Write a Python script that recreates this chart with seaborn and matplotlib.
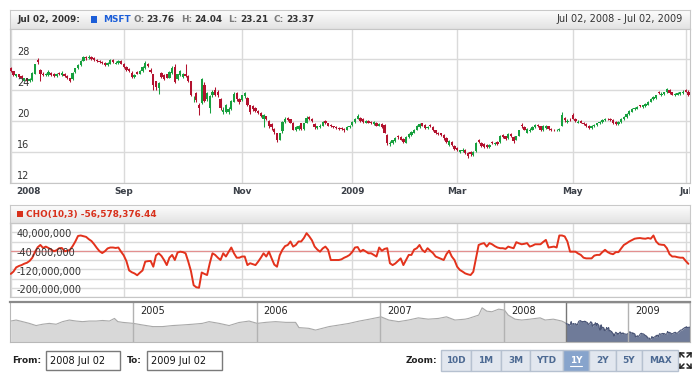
"""
MSFT one-year candlestick view with a Chaikin oscillator pane and a range scroller.
"""

import numpy as np
import pandas as pd
import matplotlib
matplotlib.use("Agg")
import matplotlib.pyplot as plt
import matplotlib.dates as mdates
import matplotlib.transforms as mtransforms
from matplotlib.colors import LinearSegmentedColormap
from matplotlib.patches import Rectangle
from matplotlib.lines import Line2D
import seaborn as sns

# ---------------------------------------------------------------- data
opens = [
    26.8, 26.4, 25.8, 26.0, 25.8, 25.2, 25.5, 25.1, 25.3, 26.1,
    27.9, 26.6, 26.1, 25.9, 25.9, 26.2, 26.1, 25.8, 26.2, 25.9,
    26.1, 25.8, 25.5, 25.4, 26.3, 26.8, 27.2, 27.8, 28.3, 28.1,
    28.3, 28.1, 27.9, 27.8, 27.6, 27.5, 27.2, 27.4, 27.9, 27.4,
    27.5, 27.8, 27.4, 27.0, 26.7, 26.2, 25.7, 26.3, 26.1, 26.4,
    26.8, 27.4, 26.6, 26.0, 25.1, 24.3, 26.2, 25.9, 26.0, 25.6,
    26.2, 27.0, 25.4, 25.9, 25.7, 26.0, 25.8, 25.1, 22.8, 23.6,
    22.1, 22.3, 24.6, 22.8, 21.7, 23.3, 24.0, 23.7, 22.9, 21.1,
    21.2, 21.1, 21.5, 22.5, 23.6, 22.9, 22.7, 23.2, 23.0, 22.0,
    21.9, 21.7, 21.3, 21.0, 20.3, 20.6, 20.0, 19.6, 19.0, 18.4,
    17.6, 18.7, 19.9, 20.4, 20.2, 19.8, 18.9, 19.0, 19.7, 19.0,
    19.8, 20.5, 20.3, 19.6, 19.1, 19.2, 19.4, 20.0, 19.7, 19.5,
    19.3, 19.2, 19.1, 19.1, 19.0, 18.9, 19.2, 19.5, 19.9, 20.3,
    20.4, 20.3, 19.8, 20.0, 19.9, 19.6, 19.8, 19.4, 19.6, 19.5,
    18.2, 17.0, 17.1, 17.4, 18.1, 17.9, 17.7, 17.2, 17.9, 18.2,
    18.5, 18.9, 19.2, 19.7, 19.5, 19.1, 19.5, 19.2, 18.8, 18.5,
    18.4, 18.2, 17.8, 16.9, 17.3, 16.8, 16.5, 16.0, 16.1, 16.3,
    15.9, 16.0, 15.6, 16.1, 17.5, 17.2, 17.0, 16.9, 16.6, 17.3,
    17.0, 17.3, 17.3, 18.2, 18.0, 17.8, 18.3, 17.9, 17.6, 18.1,
    19.5, 19.2, 18.5, 18.7, 18.9, 19.2, 19.5, 19.3, 18.8, 19.1,
    19.3, 19.0, 18.9, 18.8, 18.8, 19.4, 20.4, 19.9, 20.3, 20.8,
    20.3, 19.8, 20.0, 19.8, 19.6, 19.4, 19.1, 19.3, 19.5, 19.7,
    19.9, 20.1, 20.3, 20.3, 20.1, 19.9, 19.6, 19.9, 20.2, 20.5,
    20.9, 21.2, 21.5, 21.6, 22.0, 21.8, 21.9, 22.1, 22.5, 22.8,
    23.0, 23.8, 23.3, 23.5, 23.7, 24.0, 23.7, 23.3, 23.4, 23.5,
    23.6, 24.0, 23.76,
]
highs = [
    27.0, 26.5, 26.1, 26.1, 25.9, 25.6, 25.6, 25.5, 26.3, 27.4,
    28.1, 26.7, 26.3, 26.2, 26.6, 26.3, 26.2, 26.2, 26.3, 26.4,
    26.2, 25.9, 25.6, 26.3, 26.9, 27.3, 27.9, 28.4, 28.4, 28.5,
    28.4, 28.2, 28.0, 27.9, 27.7, 27.6, 27.6, 28.0, 28.0, 27.7,
    27.9, 27.9, 27.5, 27.1, 26.8, 26.4, 26.0, 26.4, 26.6, 27.1,
    27.7, 27.5, 26.8, 26.1, 25.2, 25.0, 26.3, 26.0, 26.1, 26.4,
    27.1, 27.3, 26.1, 26.6, 26.2, 27.3, 25.9, 25.2, 23.2, 23.7,
    22.3, 25.5, 25.0, 23.8, 23.3, 24.0, 24.4, 24.0, 23.0, 21.8,
    22.2, 21.8, 22.7, 23.7, 23.8, 23.0, 23.4, 23.8, 23.1, 22.1,
    22.0, 21.8, 21.4, 21.1, 20.9, 20.7, 20.1, 19.7, 19.1, 18.5,
    18.5, 20.0, 20.5, 20.5, 20.3, 19.9, 19.4, 19.5, 19.8, 19.8,
    20.7, 20.6, 20.4, 19.7, 19.4, 19.6, 20.0, 20.1, 19.8, 19.6,
    19.4, 19.3, 19.2, 19.2, 19.1, 19.3, 19.5, 20.0, 20.4, 20.9,
    20.5, 20.4, 20.1, 20.1, 20.0, 20.0, 19.9, 19.7, 19.8, 19.6,
    18.3, 17.4, 17.6, 17.9, 18.2, 18.0, 17.8, 18.0, 18.4, 18.7,
    19.0, 19.5, 19.8, 19.8, 19.6, 19.4, 19.6, 19.3, 18.9, 18.6,
    18.5, 18.3, 17.9, 17.5, 17.4, 16.9, 16.6, 16.3, 16.5, 16.4,
    16.0, 16.1, 16.1, 17.3, 17.7, 17.3, 17.1, 17.0, 17.0, 17.4,
    17.3, 17.4, 18.2, 18.3, 18.1, 18.5, 18.4, 18.0, 18.1, 18.9,
    19.7, 19.3, 19.1, 19.1, 19.4, 19.6, 19.6, 19.4, 19.5, 19.5,
    19.4, 19.1, 19.0, 19.0, 19.1, 21.2, 20.5, 20.2, 20.4, 21.0,
    20.4, 20.1, 20.1, 19.9, 19.7, 19.5, 19.5, 19.6, 19.8, 20.0,
    20.2, 20.4, 20.4, 20.4, 20.2, 20.0, 20.0, 20.4, 20.6, 21.0,
    21.4, 21.7, 21.8, 21.9, 22.1, 22.1, 22.3, 22.6, 23.0, 23.2,
    23.4, 23.9, 23.7, 23.8, 24.3, 24.1, 23.8, 23.6, 23.7, 23.8,
    24.0, 24.1, 24.04,
]
lows = [
    26.3, 25.8, 25.7, 25.6, 25.4, 25.1, 25.0, 25.0, 25.2, 26.0,
    27.4, 25.1, 25.8, 25.8, 25.8, 25.8, 25.7, 25.7, 25.9, 25.8,
    25.7, 25.4, 25.0, 25.3, 26.2, 26.7, 27.1, 27.7, 27.9, 28.0,
    27.9, 27.8, 27.6, 27.5, 27.3, 27.1, 27.1, 27.3, 27.5, 27.3,
    27.4, 27.3, 26.9, 26.5, 26.3, 25.6, 25.5, 26.0, 26.0, 26.3,
    26.7, 27.0, 26.2, 24.0, 24.0, 23.5, 25.5, 25.3, 25.5, 25.5,
    26.1, 24.9, 25.3, 25.8, 25.6, 25.7, 25.0, 23.2, 22.5, 22.4,
    20.8, 22.2, 22.4, 22.6, 21.0, 23.1, 23.2, 23.1, 21.4, 20.9,
    21.0, 20.9, 21.4, 22.4, 22.6, 22.2, 22.6, 23.0, 21.9, 20.9,
    21.3, 21.2, 20.9, 20.5, 19.2, 20.1, 19.1, 18.9, 18.3, 17.3,
    17.5, 18.5, 19.8, 20.0, 19.7, 18.8, 18.7, 18.9, 18.9, 18.9,
    19.7, 20.1, 19.9, 19.0, 19.0, 19.1, 19.3, 19.6, 19.3, 19.2,
    19.1, 19.0, 18.9, 18.9, 18.6, 18.8, 19.1, 19.4, 19.8, 20.2,
    19.9, 19.8, 19.7, 19.7, 19.6, 19.5, 19.3, 19.3, 19.1, 18.4,
    16.9, 16.8, 17.0, 17.3, 17.7, 17.5, 17.2, 17.1, 17.8, 18.1,
    18.4, 18.8, 19.1, 19.3, 19.0, 19.0, 19.2, 18.7, 18.3, 18.2,
    18.0, 17.6, 17.2, 16.8, 16.8, 16.3, 16.1, 15.9, 16.0, 15.8,
    15.2, 15.5, 15.5, 16.0, 17.1, 16.6, 16.5, 16.5, 16.5, 17.0,
    16.9, 16.9, 17.2, 17.8, 17.6, 17.7, 17.9, 17.2, 17.5, 18.0,
    19.1, 18.8, 18.4, 18.6, 18.8, 19.1, 19.2, 18.7, 18.7, 19.0,
    18.9, 18.7, 18.7, 18.7, 18.7, 19.3, 19.9, 19.8, 20.0, 20.2,
    19.9, 19.7, 19.7, 19.5, 19.2, 19.0, 19.0, 19.2, 19.4, 19.6,
    19.8, 20.0, 20.1, 20.0, 19.6, 19.5, 19.5, 19.8, 20.1, 20.4,
    20.8, 21.1, 21.4, 21.5, 21.8, 21.7, 21.8, 22.0, 22.4, 22.7,
    22.9, 23.5, 23.2, 23.4, 23.6, 23.5, 23.3, 23.2, 23.3, 23.4,
    23.5, 23.7, 23.21,
]
closes = [
    26.5, 25.9, 26.0, 25.7, 25.6, 25.5, 25.1, 25.4, 26.2, 27.3,
    27.6, 26.0, 25.9, 26.1, 26.3, 25.9, 25.8, 26.1, 26.0, 26.2,
    25.8, 25.5, 25.2, 26.2, 26.8, 27.2, 27.8, 28.2, 28.1, 28.3,
    28.0, 27.9, 27.7, 27.6, 27.5, 27.2, 27.5, 27.9, 27.6, 27.5,
    27.8, 27.4, 27.0, 26.6, 26.5, 25.7, 25.9, 26.1, 26.5, 27.0,
    27.5, 27.1, 26.3, 24.6, 24.4, 24.9, 25.7, 25.4, 25.6, 26.3,
    26.9, 25.0, 26.0, 26.4, 26.0, 25.8, 25.2, 23.4, 22.9, 22.7,
    21.7, 25.4, 22.6, 23.6, 23.2, 23.8, 23.4, 23.3, 21.7, 21.4,
    22.0, 21.5, 22.6, 23.5, 22.8, 22.4, 23.3, 23.6, 22.0, 21.1,
    21.5, 21.3, 21.0, 20.6, 20.8, 20.3, 19.3, 19.2, 18.6, 17.6,
    18.4, 19.9, 20.3, 20.1, 19.8, 18.9, 19.2, 19.3, 19.0, 19.7,
    20.4, 20.3, 20.0, 19.2, 19.3, 19.4, 19.9, 19.8, 19.4, 19.3,
    19.2, 19.1, 19.0, 19.0, 18.8, 19.2, 19.4, 19.9, 20.3, 20.7,
    20.0, 19.9, 20.0, 19.8, 19.7, 19.9, 19.4, 19.6, 19.2, 18.5,
    17.2, 17.2, 17.5, 17.8, 17.9, 17.6, 17.3, 17.9, 18.3, 18.6,
    18.9, 19.3, 19.6, 19.4, 19.1, 19.2, 19.3, 18.8, 18.4, 18.3,
    18.2, 17.8, 17.3, 17.4, 16.9, 16.4, 16.2, 16.2, 16.3, 15.9,
    15.5, 15.7, 16.0, 17.2, 17.3, 16.8, 16.7, 16.6, 16.9, 17.1,
    17.2, 17.0, 18.1, 17.9, 17.7, 18.3, 18.0, 17.4, 18.0, 18.8,
    19.3, 18.9, 19.0, 18.9, 19.2, 19.5, 19.3, 18.9, 19.3, 19.4,
    19.0, 18.8, 18.8, 18.9, 19.0, 20.8, 20.1, 20.0, 20.2, 20.3,
    20.0, 19.9, 19.8, 19.6, 19.3, 19.1, 19.4, 19.5, 19.7, 19.9,
    20.1, 20.3, 20.2, 20.1, 19.7, 19.6, 19.9, 20.3, 20.5, 20.9,
    21.3, 21.6, 21.7, 21.8, 21.9, 22.0, 22.2, 22.5, 22.9, 23.1,
    23.3, 23.6, 23.5, 23.7, 24.1, 23.6, 23.4, 23.5, 23.6, 23.7,
    23.8, 23.8, 23.37,
]
# Chaikin oscillator, millions
cho_m = [
    -100, -90, -72, -66, -62, -56, -52, -44, -30, -5,
    15, 25, 12, 18, 12, 5, -2, 2, 11, 12,
    -2, 0, 4, 20, 40, 64, 66, 63, 60, 50,
    42, 28, 12, -2, -10, -2, 10, 14, 14, 12,
    14, -4, -20, -45, -85, -93, -98, -106, -95, -85,
    -47, -45, -44, -69, -20, -11, -22, -40, -62, -30,
    -18, -40, -8, -4, -6, -11, -47, -88, -149, -158,
    -160, -94, -100, -105, -54, -11, -18, -30, -40, -11,
    -25, -5, 14, -11, -30, -30, -25, -25, -62, -54,
    -58, -62, -47, -30, -11, -25, -4, -33, -60, -69,
    -20, 4, 20, 25, 40, 18, 25, 40, 40, 55,
    76, 62, 45, 18, 5, -4, 10, 18, 4, -40,
    -40, -40, -40, -37, -30, -25, -18, -5, 14, 16,
    -4, 4, -3, -11, -11, -18, -25, 14, 0, 8,
    11, -54, -62, -55, -44, -33, -62, -40, -18, -18,
    5, 11, 25, 4, -6, 11, 0, -10, -25, -30,
    -35, -40, -15, 0, -25, -40, -69, -83, -90, -98,
    -102, -105, -91, -33, 25, 30, 33, 18, 33, 28,
    20, 14, 11, 11, 8, 18, 14, 11, 37, 32,
    28, 30, 33, 18, 22, 28, 28, 28, 38, 47,
    14, 16, 18, 14, 66, 66, 62, 40, -4, -4,
    -4, -12, -18, -30, -33, -33, -33, -21, -18, -18,
    -6, 4, -6, -12, -15, -6, -6, 10, 25, 32,
    40, 46, 52, 54, 55, 53, 52, 55, 52, 66,
    40, 28, 26, 25, 11, -15, -25, -25, -28, -30,
    -30, -44, -56.57837644,
]
holidays = ["2008-07-04", "2008-09-01", "2008-11-27", "2008-12-25", "2009-01-01",
            "2009-01-19", "2009-02-16", "2009-04-10", "2009-05-25"]
tick_months = ["2008-07", "2008-09", "2008-11", "2009-01", "2009-03", "2009-05", "2009-07"]
tick_labels = ["2008", "Sep", "Nov", "2009", "Mar", "May", "Jul"]
price_ticks = [12, 16, 20, 24, 28]
cho_ticks = [40e6, -40e6, -120e6, -200e6]

# long history shown in the scroller (before the selected range)
scroll_dates = [
    "2004-01-07", "2004-01-23", "2004-02-11", "2004-03-02", "2004-03-22", "2004-04-10",
    "2004-04-30", "2004-05-20", "2004-06-08", "2004-06-28", "2004-07-18", "2004-08-06",
    "2004-08-26", "2004-09-15", "2004-10-04", "2004-10-24", "2004-11-08", "2004-11-18",
    "2004-12-02", "2005-01-03", "2005-01-30", "2005-03-01", "2005-03-30", "2005-04-28",
    "2005-05-27", "2005-06-26", "2005-07-25", "2005-08-14", "2005-09-13", "2005-10-12",
    "2005-11-10", "2005-12-10", "2006-01-03", "2006-01-28", "2006-02-26", "2006-03-28",
    "2006-04-26", "2006-05-06", "2006-06-04", "2006-06-24", "2006-07-14", "2006-08-03",
    "2006-09-02", "2006-10-01", "2006-10-31", "2006-11-30", "2007-01-03", "2007-01-26",
    "2007-02-24", "2007-03-25", "2007-04-23", "2007-05-22", "2007-06-21", "2007-07-15",
    "2007-08-09", "2007-09-08", "2007-09-18", "2007-10-18", "2007-10-28", "2007-11-11",
    "2007-11-26", "2007-12-16", "2008-01-02", "2008-01-13", "2008-02-02", "2008-02-22",
    "2008-03-17", "2008-04-16", "2008-05-01", "2008-05-25", "2008-06-19",
]
scroll_prices = [
    28.0, 28.7, 27.6, 26.4, 24.9, 25.8,
    26.4, 25.8, 27.6, 28.7, 28.0, 27.6,
    28.0, 28.0, 28.4, 28.0, 29.8, 27.6,
    27.1, 26.4, 25.3, 24.2, 24.2, 24.9,
    25.3, 25.8, 26.4, 27.6, 26.4, 24.9,
    27.0, 28.0, 26.4, 27.1, 27.6, 27.1,
    27.1, 23.5, 23.0, 21.8, 23.0, 24.2,
    25.3, 26.4, 28.0, 29.3, 30.9, 28.7,
    27.6, 28.7, 30.2, 29.3, 29.8, 30.9,
    28.7, 29.3, 29.8, 32.1, 37.1, 34.8,
    34.4, 36.2, 35.5, 32.1, 29.3, 28.7,
    29.3, 30.2, 28.7, 29.3, 28.0,
]
year_labels = ["2005", "2006", "2007", "2008", "2009"]
zoom_buttons = ["10D", "1M", "3M", "YTD", "1Y", "2Y", "5Y", "MAX"]
selected_button = "1Y"

# ---------------------------------------------------------------- style
sns.set_style("white")
plt.rcParams["font.family"] = ["DejaVu Sans"]
FS = 7
FSB = 6.4   # bold header text, DejaVu bold runs wide
UP, DOWN = "#17a03e", "#b3122f"
GRID = "#dadada"
TXT = "#333333"

W, H = 700, 380
fig = plt.figure(figsize=(W / 100, H / 100), dpi=100)


def px_axes(x0, y0, x1, y1):
    return fig.add_axes([x0 / W, 1 - y1 / H, (x1 - x0) / W, (y1 - y0) / H])


def ptext(x, y, s, **kw):
    kw.setdefault("fontsize", FS)
    kw.setdefault("va", "center")
    kw.setdefault("color", TXT)
    return fig.text(x / W, 1 - y / H, s, **kw)


def prect(x0, y0, x1, y1, **kw):
    fig.add_artist(Rectangle((x0 / W, 1 - y1 / H), (x1 - x0) / W, (y1 - y0) / H,
                             transform=fig.transFigure, **kw))


hdr_cmap = LinearSegmentedColormap.from_list("hdr", ["#fdfdfd", "#e3e3e3"])


def header_bar(y0, y1):
    hx = px_axes(10, y0, 690, y1)
    hx.imshow(np.linspace(0, 1, 32)[:, None], cmap=hdr_cmap, aspect="auto", extent=(0, 1, 0, 1))
    hx.set_xticks([])
    hx.set_yticks([])
    for s in hx.spines.values():
        s.set_color("#c9c9c9")
    return hx


days = pd.bdate_range("2008-07-02", "2009-07-02", freq="C", holidays=holidays)
idx = np.arange(len(closes))
o, h, l, c = (np.array(v) for v in (opens, highs, lows, closes))
tick_idx = [int(np.searchsorted(days, pd.Timestamp(m + "-01"))) for m in tick_months]
xlim = (-0.3, len(closes) - 0.4)

# ---------------------------------------------------------------- top header
header_bar(10, 29)
ty = 19.5
ptext(17, ty, days[-1].strftime("%b %d, %Y") + ":", fontweight="bold", fontsize=FSB)
prect(91, 16.5, 97, 22.5, facecolor="#1c5ed8", edgecolor="none")
ptext(103, ty, "MSFT", fontweight="bold", color="#1c5ed8", fontsize=FSB)
for lab, val, xl, xv in zip(["O:", "H:", "L:", "C:"], [o[-1], h[-1], l[-1], c[-1]],
                            [133, 181, 228, 273], [146, 194, 240, 286]):
    ptext(xl, ty, lab, fontweight="bold", color="#7a7a7a", fontsize=FSB)
    ptext(xv, ty, f"{val:.2f}", fontweight="bold", fontsize=FSB)
ptext(683, ty, f"{days[0]:%b %d, %Y} - {days[-1]:%b %d, %Y}", ha="right")

# ---------------------------------------------------------------- candles
ax = px_axes(10, 29, 690, 183)
cols = np.where(c >= o, UP, DOWN)
ax.vlines(idx, l, h, colors=cols, linewidth=0.75, zorder=2)
ax.bar(idx, np.maximum(np.abs(c - o), 0.1), bottom=np.minimum(o, c), width=0.86,
       color=cols, linewidth=0, zorder=3, antialiased=False)
ax.set_xlim(*xlim)
ax.set_ylim(12, 31.87)
ax.set_xticks(tick_idx)
ax.set_yticks(price_ticks)
ax.grid(True, color=GRID, linewidth=1)
ax.set_axisbelow(True)
ax.tick_params(length=0, labelbottom=False, labelleft=False)
for s in ax.spines.values():
    s.set_color("#c6c6c6")
for v in price_ticks:
    ax.annotate(str(v), xy=(0, v), xycoords=("axes fraction", "data"), xytext=(7, 2),
                textcoords="offset pixels", va="bottom", ha="left", fontsize=FS, color=TXT)

# date labels strip
axl = px_axes(10, 183, 690, 201)
axl.set_xlim(*xlim)
axl.set_ylim(0, 1)
axl.axis("off")
for i, (t, lab) in enumerate(zip(tick_idx, tick_labels)):
    if i == 0:
        tr = mtransforms.offset_copy(axl.transData, fig, x=5, units="dots")
        axl.text(t, 0.5, lab, transform=tr, ha="left", va="center", fontsize=FSB,
                 fontweight="bold", color="#3a3f47")
    else:
        axl.text(t, 0.5, lab, ha="center", va="center", fontsize=FSB, fontweight="bold",
                 color="#3a3f47", clip_on=True)

# ---------------------------------------------------------------- CHO pane
header_bar(205, 223)
prect(17, 211, 22.5, 216.5, facecolor="#d8311c", edgecolor="none")
ptext(26, 214.2, f"CHO(10,3) {cho_m[-1] * 1e6:,.2f}", color="#d8311c", fontweight="bold",
      fontsize=FSB)

axc = px_axes(10, 223, 690, 297)
cho = np.array(cho_m) * 1e6
axc.axhline(0, color="#e39090", linewidth=0.9, zorder=2)
sns.lineplot(x=idx, y=cho, ax=axc, color="#e3321c", linewidth=1.4, zorder=3)
axc.set_xlim(*xlim)
axc.set_ylim(-200e6, 120e6)
axc.set_xticks(tick_idx)
axc.set_yticks(np.arange(-200e6, 121e6, 40e6))
axc.grid(True, color=GRID, linewidth=1)
axc.set_axisbelow(True)
axc.tick_params(length=0, labelbottom=False, labelleft=False)
axc.set_xlabel("")
axc.set_ylabel("")
for s in axc.spines.values():
    s.set_color("#c6c6c6")
for v in cho_ticks:
    axc.annotate(f"{v:,.0f}", xy=(0, v), xycoords=("axes fraction", "data"), xytext=(7, 2),
                 textcoords="offset pixels", va="bottom", ha="left", fontsize=FS, color=TXT,
                 zorder=5)

# ---------------------------------------------------------------- scroller
axs = px_axes(10, 302, 690, 342)
s_lo, s_hi = 13.6, 41.1
hist_x = list(pd.to_datetime(scroll_dates)) + [days[0]]
hist_y = scroll_prices + [closes[0]]
axs.fill_between(hist_x, hist_y, s_lo, color="#d8d8d8", linewidth=0)
sns.lineplot(x=hist_x, y=hist_y, ax=axs, color="#a9a9a9", linewidth=0.8)
axs.fill_between(days, closes, s_lo, color="#6f7b99", linewidth=0)
sns.lineplot(x=days, y=closes, ax=axs, color="#4a5576", linewidth=0.8)
axs.set_xlim(pd.Timestamp("2004-01-05"), days[-1])
axs.set_ylim(s_lo, s_hi)
axs.set_xticks([])
axs.set_yticks([])
axs.set_xlabel("")
axs.set_ylabel("")
for y in year_labels:
    d = mdates.date2num(pd.Timestamp(f"{y}-01-01"))
    axs.axvline(d, color="#b2b2b2", linewidth=1)
    axs.annotate(y, xy=(d, 1), xycoords=("data", "axes fraction"), xytext=(7, -4),
                 textcoords="offset pixels", va="top", ha="left", fontsize=FS, color="#222222")
axs.axvspan(days[0], days[-1], fill=False, edgecolor="#777777", linewidth=1)
for k, s in axs.spines.items():
    s.set_color("#8a8a8a" if k == "top" else "#b8b8b8")
axs.spines["top"].set_linewidth(1.6)

# ---------------------------------------------------------------- range controls
cy = 360.5
ptext(12, cy, "From:", fontweight="bold", color="#222222", fontsize=FSB)
prect(46, 351, 120, 370, facecolor="white", edgecolor="#7a7a7a", linewidth=1)
ptext(50, cy, f"{days[0]:%Y %b %d}", color="#111111")
ptext(127, cy, "To:", fontweight="bold", color="#222222", fontsize=FSB)
prect(147, 351, 222, 370, facecolor="white", edgecolor="#7a7a7a", linewidth=1)
ptext(151, cy, f"{days[-1]:%Y %b %d}", color="#111111")

ptext(406, cy, "Zoom:", fontweight="bold", color="#222222", fontsize=FSB)
edges = [441, 471, 501, 530, 563, 589, 616, 642, 678]
for lab, x0, x1 in zip(zoom_buttons, edges[:-1], edges[1:]):
    sel = lab == selected_button
    prect(x0, 350, x1, 371, facecolor="#87a4cc" if sel else "#e2e7ef",
          edgecolor="#b6c1d0", linewidth=1)
    ptext((x0 + x1) / 2, cy, lab, ha="center", fontweight="bold", fontsize=FSB,
          color="white" if sel else "#4d6a93")
    if sel:
        fig.add_artist(Line2D([(x0 + x1) / 2 / W - 6 / W, (x0 + x1) / 2 / W + 6 / W],
                              [1 - 366 / H, 1 - 366 / H], transform=fig.transFigure,
                              color="white", linewidth=0.8))

# fullscreen icon
for x, y, sx, sy in [(680, 353, 1, 1), (691, 353, -1, 1), (680, 368, 1, -1), (691, 368, -1, -1)]:
    for dx, dy in [(4 * sx, 0), (0, 4 * sy), (4 * sx, 4 * sy)]:
        fig.add_artist(Line2D([x / W, (x + dx) / W], [1 - y / H, 1 - (y + dy) / H],
                              transform=fig.transFigure, color="#222222", linewidth=1.1))

fig.savefig("out.png", dpi=100)
